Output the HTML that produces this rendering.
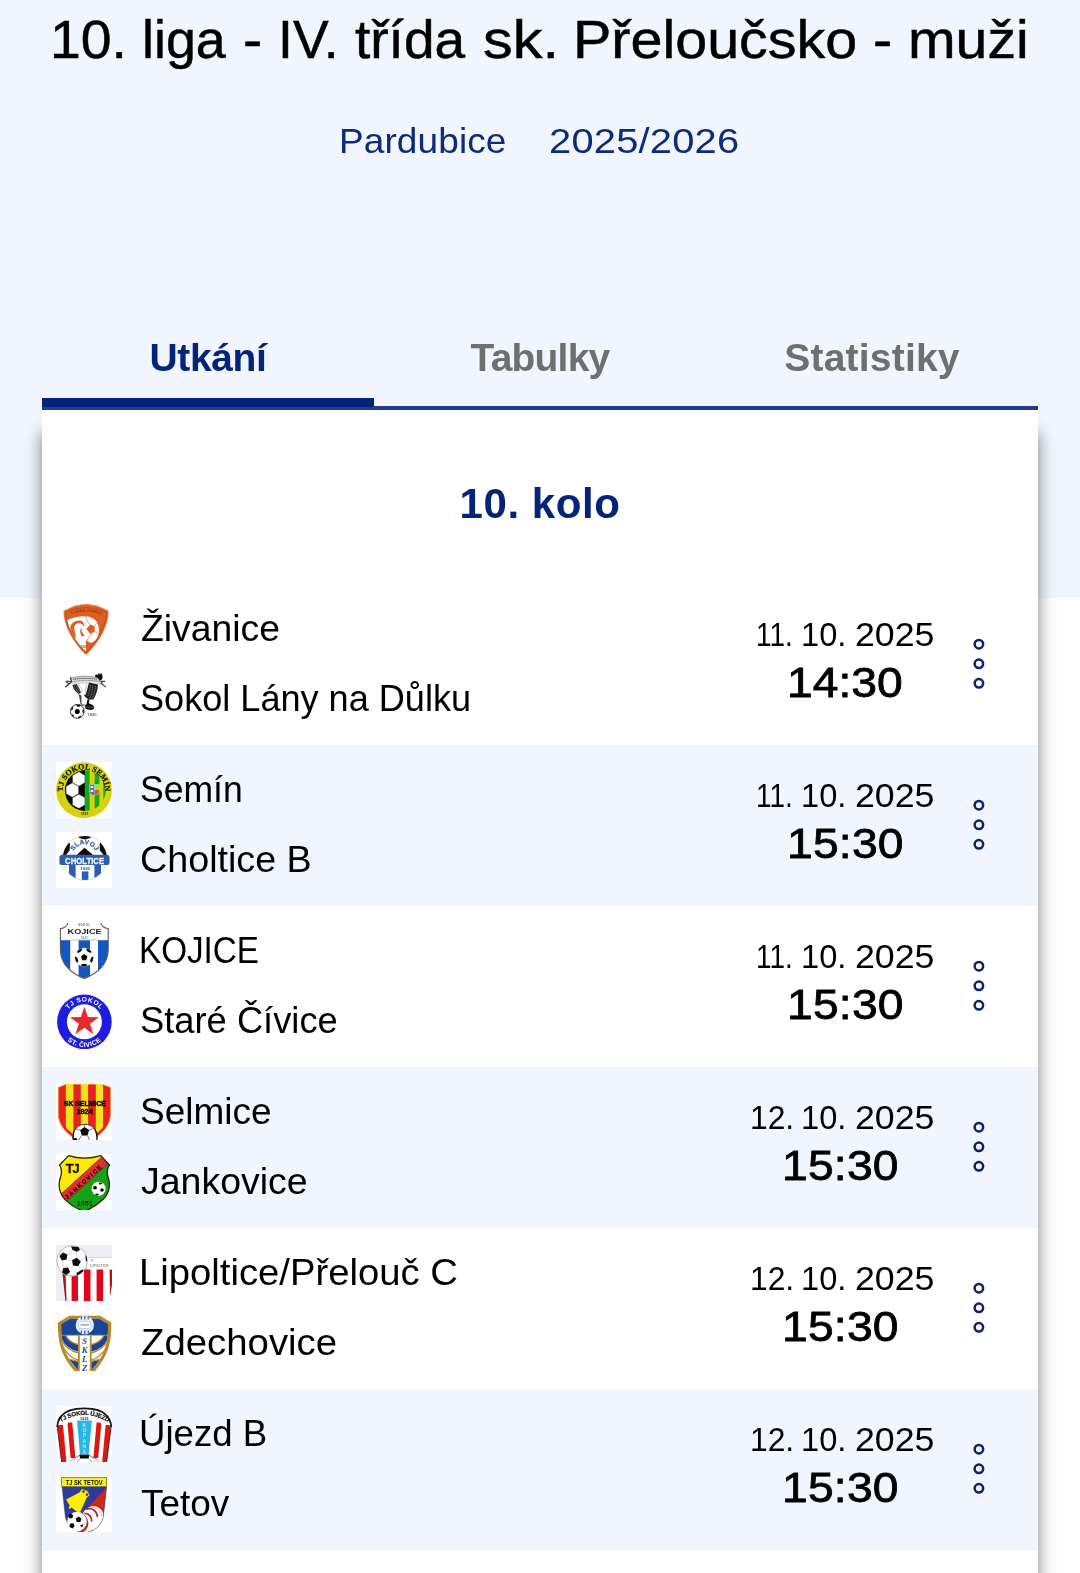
<!DOCTYPE html>
<html lang="cs">
<head>
<meta charset="utf-8">
<title>10. liga - IV. třída sk. Přeloučsko - muži</title>
<style>
*{box-sizing:border-box;margin:0;padding:0}
html,body{width:1080px;height:1573px;overflow:hidden;background:#fff}
body{position:relative;font-family:"Liberation Sans",sans-serif;color:#000}
.page{position:absolute;left:0;top:0;width:1080px;height:1573px;overflow:hidden;will-change:transform}
.top{position:absolute;left:0;top:0;width:1080px;height:598px;background:#f1f6fe}
.title{position:absolute;left:0;top:8px;width:1080px;height:62px;font-size:54px;line-height:62px;white-space:nowrap;color:#000;-webkit-text-stroke:.5px #000}
.title span{position:absolute;top:0;transform-origin:0 50%}
.sub{position:absolute;transform-origin:0 50%;top:121.3px;font-size:35.6px;line-height:40px;color:#0d2b7b;white-space:nowrap}
.tabs{position:absolute;left:42px;top:330px;width:996px;height:68px;display:flex}
.tab{flex:1;text-align:center;font-weight:bold;font-size:39px;line-height:56px;color:#6f6f6f}
.tab.on{color:#04247c}
.bar{position:absolute;left:42px;top:398px;width:332px;height:9px;background:#04247c}
.line{position:absolute;left:42px;top:406px;width:996px;height:3.5px;background:#1f3f8f}
.card{position:absolute;left:42px;top:409.5px;width:996px;height:1300px;background:#fff;box-shadow:0 23px 16px rgba(0,0,0,.5);clip-path:inset(0 -60px -60px -60px)}
.kolo{position:absolute;left:0;top:70.7px;width:996px;text-align:center;font-weight:bold;font-size:42px;line-height:48px;color:#04247c;letter-spacing:.56px}
.row{position:absolute;left:0;width:996px;height:161px}
.row.b{background:#f1f6fe}
.tm{position:absolute;left:14px;height:56px;width:700px}
.tm .lg{position:absolute;left:0;top:0;width:56px;height:56px;display:block}
.tm .nm{position:absolute;top:.2px;font-size:36.5px;white-space:nowrap;line-height:56px;transform-origin:0 50%}
.t1{top:17px}.t2{top:87px}
.d,.h{position:absolute;white-space:nowrap;transform-origin:0 50%}
.d{font-size:33px;line-height:36px;top:32.7px;left:0;width:996px;height:36px}
.d span{position:absolute;top:0;transform-origin:0 50%}
.h{font-size:42px;line-height:46px;-webkit-text-stroke:.8px #000;top:76.3px}
.dots{position:absolute;left:930px;top:53px;width:14px}
</style>
</head>
<body>
<div class="page">
<div class="top"></div>
<div class="title"><span style="left:49.9px;letter-spacing:0.0px;transform:scaleX(1.0258)">10.</span> <span style="left:142.0px;letter-spacing:0.0px;transform:scaleX(0.9963)">liga</span> <span style="left:242.9px;letter-spacing:0px;transform:scaleX(1.0714)">-</span> <span style="left:277.7px;letter-spacing:0.0px;transform:scaleX(0.9922)">IV.</span> <span style="left:355.0px;letter-spacing:-0.0px;transform:scaleX(1.0185)">třída</span> <span style="left:482.9px;letter-spacing:0.0px;transform:scaleX(1.1)">sk.</span> <span style="left:573.0px;letter-spacing:0.0px;transform:scaleX(1.064)">Přeloučsko</span> <span style="left:872.9px;letter-spacing:0px;transform:scaleX(1.0714)">-</span> <span style="left:907.5px;letter-spacing:0.0px;transform:scaleX(1.0583)">muži</span></div>
<div class="sub" style="left:339.3px;letter-spacing:0.09px;transform:scaleX(1.04)">Pardubice</div>
<div class="sub" style="left:548.8px;letter-spacing:0.2px;transform:scaleX(1.12)">2025/2026</div>
<div class="tabs"><div class="tab on" style="letter-spacing:-.4px">Utkání</div><div class="tab" style="letter-spacing:-.8px">Tabulky</div><div class="tab" style="letter-spacing:.2px">Statistiky</div></div>
<div class="card">
<div class="kolo">10. kolo</div>
<div class="row" style="top:174.7px">
<div class="tm t1"><svg class="lg" viewBox="0 0 56 56">
<defs><clipPath id="zv"><path d="M10.6,12.2 Q30,3.2 49.4,12.2 C49,26 42,39 30,50.6 C18,39 11,26 10.6,12.2Z"/></clipPath></defs>
<path d="M7.8,10 Q30,-3.4 52.4,10 C52.2,25 42.7,41.8 30,53.8 C17.3,41.8 8,25 7.8,10Z" fill="#f0a27a" stroke="#f0a27a" stroke-width="1" stroke-linejoin="round"/>
<path d="M8.4,10.4 Q30,-2.6 51.8,10.4 C51.5,25 42.3,41.2 30,53 C17.7,41.2 8.7,25 8.4,10.4Z" fill="#de5f22" stroke="#de5f22" stroke-width=".8" stroke-linejoin="round"/>
<path d="M9.7,11.4 Q30,1.4 50.3,11.4 C50,25.6 42,39.6 30,51.6 C18,39.6 10,25.6 9.7,11.4Z" fill="none" stroke="#9c4216" stroke-width=".5" stroke-linejoin="round"/>
<g clip-path="url(#zv)">
<path d="M10,19.6 Q20,15 30,15.3 L30,52 L8,52Z" fill="#fff"/>
<path d="M30,15.3 Q37,16 40.5,20.5 Q44.5,27 42,35 Q40,40.5 34.5,42 L30,39.5Z" fill="#fff"/>
<path d="M30,39.5 L34.8,42.2 L30,52Z" fill="#de5f22"/>
<path d="M30.4,28 L34.2,23.6 L38.6,25.2 L38.8,30.6 L34.4,33 Z" fill="#de5f22"/>
<path d="M30,15.5 L31.2,20.5 L34.2,23.6 M38.6,25.2 L41,22 M38.8,30.6 L42.4,33 M34.4,33 L32.6,37.5 L30,39.5 M30.4,28 L29.6,27" fill="none" stroke="#c9551d" stroke-width=".5"/>
<path d="M14.2,27.5 C14.5,22 19.5,18.8 24.5,19.6 C27,20.2 28.4,22.6 28.6,26 C26.8,22.6 24.2,21.6 21.4,22.4 C18.8,23.2 18,25.6 18.2,28 C18.6,31.6 20.4,34 19.4,37.4 C18.6,38.2 17.6,38 17.2,37 C15.6,34 14,31 14.2,27.5Z" fill="#de5f22"/>
<path d="M21.2,24.4 C19.6,26 19.8,28.4 20.6,30 C20.4,27.6 21.2,25.8 23,24.6Z" fill="#fff"/>
<path d="M24.8,27.4 C23.6,30 24.4,33.4 26,35.8 L28.6,34.4 C26.4,32.6 25.2,30 25.6,27.6Z" fill="#de5f22"/>
</g>
<path id="zvt" d="M12.6,14.4 Q30,6.6 47.4,14.4" fill="none"/>
<text font-family="Liberation Sans,sans-serif" font-size="3.1" font-weight="bold" fill="#8a2f0c" text-anchor="middle"><textPath href="#zvt" startOffset="50%">TJ SOKOL ŽIVANICE</textPath></text>
<text x="27.6" y="46.6" font-family="Liberation Sans,sans-serif" font-size="2.6" fill="#4a5f8f" text-anchor="middle" font-weight="bold">1932</text>
</svg><span class="nm" style="left:84.7px;letter-spacing:0.0px;transform:scaleX(1.0226)">Živanice</span></div>
<div class="tm t2"><svg class="lg" viewBox="0 0 56 56">
<path d="M14.5,6.6 Q28,3.6 42.5,6.4 L43.5,10.4 Q28,8 15.5,11.2Z" fill="#d9d9d9" stroke="#555" stroke-width=".5"/>
<path d="M17,8.4 Q28,6.4 41,8.2" fill="none" stroke="#333" stroke-width=".9" stroke-dasharray="1.4 .5"/>
<path d="M14.5,6.8 L15.6,11 L11,10 M15.6,11 L13,13 L9.6,16 M13,13 L10,10.6 M43.5,10.2 L48.6,10.4 M45,12 L49.4,15.8 M46.4,10.4 L45,13" fill="none" stroke="#333" stroke-width="1.1" stroke-linecap="round"/>
<path d="M15.4,11 L44,10.4 L43.6,12.4 Q30,11.4 16.4,13Z" fill="#eee" stroke="#888" stroke-width=".3"/>
<path d="M38.6,5.4 L40,3.2 L41.6,4 L42.8,2 L44,3.4 L45.2,1.8 Q47.4,5.4 46,8.6 L43.6,9.6 Q42.6,6.6 38.6,5.4Z" fill="#111"/>
<path d="M16.4,14 L20.6,13 Q24,17.6 25,21.6 L22.6,23 Q17.6,19.6 16.4,14Z" fill="#2a2a2a"/>
<path d="M18,15.4 L22.6,21.6 M20,14.6 L24,20.6" stroke="#999" stroke-width=".5"/>
<path d="M21.4,13 Q25.4,16 26.6,20.6 L25,21.4" fill="none" stroke="#bbb" stroke-width=".8"/>
<path d="M33,11.4 L42,13.6 Q41.6,22 37.4,28.4 L32.6,28.6 Q28.6,26.6 27.6,23.6 L29.6,24 Q31.6,17 33,11.4Z" fill="#222"/>
<path d="M34.6,14 Q33.6,20 31.6,25.6 M37,14.6 Q36,21 34,27 M39.6,15 Q38.6,22 36.4,27.6" fill="none" stroke="#aaa" stroke-width=".7" stroke-dasharray="1 .7"/>
<path d="M31,12.6 Q29,17.6 29.4,23.4" fill="none" stroke="#ccc" stroke-width="1.2"/>
<path d="M22.4,23 L25.4,24.6 Q25.6,28 25.4,31.6 L24,31.6 Q24.2,27.6 22.4,23Z" fill="#444"/>
<path d="M31.4,28.4 L33.4,28.6 L33,32.4 Q37.6,33.6 38.4,36.4 Q37.6,39 34.6,39 L29.6,38 L29,34.6 L30.6,33Z" fill="#111"/>
<path d="M30,36 L37.6,36.6" stroke="#888" stroke-width=".5"/>
<circle cx="21.3" cy="40.4" r="6.9" fill="#fff" stroke="#222" stroke-width=".9"/>
<circle cx="21.3" cy="40.4" r="2.5" fill="#000"/>
<path d="M20,33.8 L24.6,33.6 L24,35.6 L21.4,35.8Z M15,37.4 L17.4,35.6 L17,38.2 L15.4,39.6Z M26.6,38.6 L27.8,38.4 L27.8,42 L26.4,41.6Z M15.6,43 L17.6,44 L18,46 L16.4,45.2Z M22,46 L25,44.6 L24.6,46.4 L22.6,47.2Z" fill="#111"/>
<path d="M24.4,31.6 L26.6,34.4 L29.2,34" fill="none" stroke="#555" stroke-width="1.2"/>
<text x="36" y="45.2" font-family="Liberation Sans,sans-serif" font-size="4.2" font-weight="bold" fill="#666" text-anchor="middle">1920</text>
</svg><span class="nm" style="left:83.7px;letter-spacing:0.0px;transform:scaleX(0.9888)">Sokol Lány na Důlku</span></div>
<div class="d"><span style="left:714.2px;letter-spacing:0.0px;transform:scaleX(0.8462)">11.</span> <span style="left:759.0px;letter-spacing:0.0px;transform:scaleX(0.9878)">10.</span> <span style="left:812.6px;letter-spacing:0.0px;transform:scaleX(1.0829)">2025</span></div><div class="h" style="left:745.3px;letter-spacing:0.02px;transform:scaleX(1.1)">14:30</div>
<svg class="dots" viewBox="0 0 14 54" width="14" height="54"><g fill="none" stroke="#0d2173" stroke-width="2.5"><circle cx="6.9" cy="7.2" r="4.25"/><circle cx="6.9" cy="26.8" r="4.25"/><circle cx="6.9" cy="46.3" r="4.25"/></g></svg>
</div>
<div class="row b" style="top:335.7px">
<div class="tm t1"><svg class="lg" viewBox="0 0 56 56">
<rect width="56" height="56" fill="#fff"/>
<defs><clipPath id="smc"><circle cx="29.3" cy="28.5" r="20.4"/></clipPath></defs>
<circle cx="28" cy="28.2" r="27.9" fill="#d6d30e"/>
<g clip-path="url(#smc)">
<rect x="8" y="7" width="21" height="43" fill="#0a0a0a"/>
<g fill="#fff" stroke="#bbb" stroke-width=".4">
<polygon points="22.8,10.1 16.8,13.6 16.8,20.5 22.8,23.9 28.8,20.5 28.8,13.6"/>
<polygon points="16.3,21.1 10.3,24.6 10.3,31.5 16.3,34.9 22.3,31.5 22.3,24.6"/>
<polygon points="22.8,32.4 16.8,35.8 16.8,42.8 22.8,46.2 28.8,42.8 28.8,35.8"/>
</g>
<rect x="28.8" y="7" width="5" height="43" fill="#14a81c"/>
<rect x="33.8" y="7" width="4.8" height="43" fill="#d6d30e"/>
<rect x="38.6" y="7" width="5" height="43" fill="#14a81c"/>
<rect x="43.6" y="7" width="3.8" height="43" fill="#d6d30e"/>
<rect x="47.4" y="7" width="3" height="43" fill="#14a81c"/>
<path d="M33.4,22.4 L43.4,22.4 L43.4,29 Q43,33 38.4,33.6 Q33.8,33 33.4,29Z" fill="#fff"/>
<path d="M33.6,22.6 L38.4,22.6 L38.4,33.4 Q34,32.8 33.6,29Z" fill="#4a76c8"/>
<path d="M34.6,24 h2.6 v2 h-2.6z M34.6,28 h2.6 v2 h-2.6z" fill="#e8eefc"/>
<path d="M38.4,22.6 L43.2,22.6 L43.2,28 L38.4,28Z" fill="#9fe03a"/>
<path d="M38.4,28 L43.2,28 Q43.2,32.6 38.4,33.4Z" fill="#d8583a"/>
</g>
<path id="smt" d="M7.92,34.54 A21.0,21.0 0 1 1 48.08,34.54" fill="none"/>
<text font-family="Liberation Serif,serif" font-size="7.8" font-weight="bold" fill="#15150a" stroke="#15150a" stroke-width=".25" text-anchor="middle" letter-spacing=".15"><textPath href="#smt" startOffset="50%">TJ SOKOL SEMÍN</textPath></text>
<text x="28.6" y="53.2" font-family="Liberation Serif,serif" font-size="3.6" font-weight="bold" fill="#2a2a00" text-anchor="middle">1919</text>
</svg><span class="nm" style="left:83.8px;letter-spacing:0.0px;transform:scaleX(0.9733)">Semín</span></div>
<div class="tm t2"><svg class="lg" viewBox="0 0 56 56">
<rect width="56" height="56" fill="#fff"/>
<defs><clipPath id="chc"><circle cx="28.8" cy="26.1" r="22"/></clipPath></defs>
<circle cx="28.8" cy="26.1" r="22.2" fill="#fff" stroke="#c9c9c9" stroke-width=".6"/>
<g clip-path="url(#chc)">
<path d="M21.6,3 L36,3 L34.4,6 L28.8,7.6 L23.2,6Z" fill="#0b0b0b"/>
<path d="M5,24 L8.4,17 L12.6,10.4 L14,11.4 L13.6,18.6 L9.6,23.4Z" fill="#0b0b0b"/>
<path d="M52.6,24 L49.2,17 L45,10.4 L43.6,11.4 L44,18.6 L48,23.4Z" fill="#0b0b0b"/>
<path d="M28.6,15.8 L36.6,22.4 L36.6,24 L21,24 L21,22.4Z" fill="#0b0b0b"/>
<rect x="13" y="32" width="6.6" height="20" fill="#2b5db2"/>
<rect x="25.8" y="39.4" width="6.6" height="12" fill="#2b5db2"/>
<rect x="38.4" y="32" width="6.6" height="20" fill="#2b5db2"/>
</g>
<rect x="3.4" y="22.8" width="50.2" height="10.3" rx="3.2" fill="#2b5db2"/>
<text x="28.6" y="31.5" font-family="Liberation Sans,sans-serif" font-size="9.6" font-weight="bold" fill="#eef3fd" stroke="#eef3fd" stroke-width=".35" text-anchor="middle" textLength="39" lengthAdjust="spacingAndGlyphs">CHOLTICE</text>
<path id="cht" d="M17.2,20.6 A11.9,11.9 0 0 1 40,20.6" fill="none"/>
<text font-family="Liberation Sans,sans-serif" font-size="6.6" font-weight="bold" fill="#3a63b4" stroke="#3a63b4" stroke-width=".25" text-anchor="middle" letter-spacing=".2"><textPath href="#cht" startOffset="50%">SLAVOJ</textPath></text>
<text x="29.2" y="38.2" font-family="Liberation Sans,sans-serif" font-size="4.4" font-weight="bold" fill="#2a4a8e" text-anchor="middle">1920</text>
</svg><span class="nm" style="left:83.6px;letter-spacing:0.0px;transform:scaleX(1.0325)">Choltice B</span></div>
<div class="d"><span style="left:714.2px;letter-spacing:0.0px;transform:scaleX(0.8462)">11.</span> <span style="left:759.0px;letter-spacing:0.0px;transform:scaleX(0.9878)">10.</span> <span style="left:812.6px;letter-spacing:0.0px;transform:scaleX(1.0829)">2025</span></div><div class="h" style="left:744.9px;letter-spacing:0.2px;transform:scaleX(1.1)">15:30</div>
<svg class="dots" viewBox="0 0 14 54" width="14" height="54"><g fill="none" stroke="#0d2173" stroke-width="2.5"><circle cx="6.9" cy="7.2" r="4.25"/><circle cx="6.9" cy="26.8" r="4.25"/><circle cx="6.9" cy="46.3" r="4.25"/></g></svg>
</div>
<div class="row" style="top:496.7px">
<div class="tm t1"><svg class="lg" viewBox="0 0 56 56">
<defs><clipPath id="kjc"><path d="M12,-1 Q11.4,4.6 4.4,5.6 L4.4,27 C4.6,40 14,50.4 28.3,55.4 C42.6,50.4 52,40 52.2,27 L52.2,5.6 Q45.2,4.6 44.6,-1Z"/></clipPath><clipPath id="kjb"><circle cx="28.2" cy="34.2" r="9.2"/></clipPath></defs>
<path d="M12,-1 Q11.4,4.6 4.4,5.6 L4.4,27 C4.6,40 14,50.4 28.3,55.4 C42.6,50.4 52,40 52.2,27 L52.2,5.6 Q45.2,4.6 44.6,-1Z" fill="#fff"/>
<g clip-path="url(#kjc)">
<rect x="3" y="17.2" width="11.2" height="40" fill="#1257c2"/>
<rect x="22.6" y="17.2" width="11.4" height="40" fill="#1257c2"/>
<rect x="42" y="17.2" width="12" height="40" fill="#1257c2"/>
<rect x="14" y="16.6" width="28" height=".7" fill="#aaa"/>
</g>
<path d="M12,-1 Q11.4,4.6 4.4,5.6 L4.4,27 C4.6,40 14,50.4 28.3,55.4 C42.6,50.4 52,40 52.2,27 L52.2,5.6 Q45.2,4.6 44.6,-1Z" fill="none" stroke="#5a5a5a" stroke-width="1.1"/>
<circle cx="28.2" cy="34.2" r="9.2" fill="#fff" stroke="#ddd" stroke-width=".4"/>
<g clip-path="url(#kjb)"><ellipse cx="23.1" cy="27.1" rx="3.1" ry="2.1" transform="rotate(-36 23.1 27.1)" fill="#0a0a0a"/><ellipse cx="19.9" cy="36.9" rx="3.1" ry="2.1" transform="rotate(-108 19.9 36.9)" fill="#0a0a0a"/><ellipse cx="28.2" cy="42.9" rx="3.1" ry="2.1" transform="rotate(-180 28.2 42.9)" fill="#0a0a0a"/><ellipse cx="36.5" cy="36.9" rx="3.1" ry="2.1" transform="rotate(-252 36.5 36.9)" fill="#0a0a0a"/><ellipse cx="33.3" cy="27.1" rx="3.1" ry="2.1" transform="rotate(-324 33.3 27.1)" fill="#0a0a0a"/></g>
<polygon points="28.2,31.0 25.0,33.3 26.2,37.2 30.2,37.2 31.4,33.3" fill="#050505"/>
<text x="28.6" y="11.4" font-family="Liberation Sans,sans-serif" font-size="7.6" font-weight="bold" fill="#1a1a1a" text-anchor="middle" textLength="34" lengthAdjust="spacingAndGlyphs">KOJICE</text>
<text x="28.4" y="3.4" font-family="Liberation Sans,sans-serif" font-size="2.8" font-weight="bold" fill="#666" text-anchor="middle" letter-spacing=".5">SOKOL</text>
<text x="28.4" y="15.8" font-family="Liberation Sans,sans-serif" font-size="2.8" font-weight="bold" fill="#777" text-anchor="middle" letter-spacing=".3">1921</text>
</svg><span class="nm" style="left:83.0px;letter-spacing:0.0px;transform:scaleX(0.9102)">KOJICE</span></div>
<div class="tm t2"><svg class="lg" viewBox="0 0 56 56">
<circle cx="28.4" cy="28.9" r="27.3" fill="#1d1ce0"/>
<circle cx="28.4" cy="28.799999999999997" r="17.5" fill="#fff"/>
<polygon points="28.4,13.7 24.9,24.1 13.9,24.2 22.8,30.7 19.5,41.2 28.4,34.8 37.3,41.2 34.0,30.7 42.9,24.2 31.9,24.1" fill="#e8292b"/>
<path id="cvt" d="M8.41,25.37 A20.3,20.3 0 0 1 48.39,25.37" fill="none"/>
<path id="cvb" d="M4.72,37.52 A25.2,25.2 0 0 0 52.08,37.52" fill="none"/>
<text font-family="Liberation Sans,sans-serif" font-size="6.6" font-weight="bold" fill="#fff" text-anchor="middle" letter-spacing=".5"><textPath href="#cvt" startOffset="50%">TJ SOKOL</textPath></text>
<text font-family="Liberation Sans,sans-serif" font-size="6.6" font-weight="bold" fill="#fff" text-anchor="middle" letter-spacing=".4"><textPath href="#cvb" startOffset="50%">ST. ČIVICE</textPath></text>
</svg><span class="nm" style="left:83.7px;letter-spacing:0.0px;transform:scaleX(0.9949)">Staré Čívice</span></div>
<div class="d"><span style="left:714.2px;letter-spacing:0.0px;transform:scaleX(0.8462)">11.</span> <span style="left:759.0px;letter-spacing:0.0px;transform:scaleX(0.9878)">10.</span> <span style="left:812.6px;letter-spacing:0.0px;transform:scaleX(1.0829)">2025</span></div><div class="h" style="left:744.9px;letter-spacing:0.2px;transform:scaleX(1.1)">15:30</div>
<svg class="dots" viewBox="0 0 14 54" width="14" height="54"><g fill="none" stroke="#0d2173" stroke-width="2.5"><circle cx="6.9" cy="7.2" r="4.25"/><circle cx="6.9" cy="26.8" r="4.25"/><circle cx="6.9" cy="46.3" r="4.25"/></g></svg>
</div>
<div class="row b" style="top:657.7px">
<div class="tm t1"><svg class="lg" viewBox="0 0 56 56">
<rect width="56" height="56" fill="#fff"/>
<defs><clipPath id="slc"><path d="M2.2,3.4 L10,0 L46.4,0 L54.6,3.4 L54.6,30 C54.4,44 42,54 28.4,59 C14.8,54 2.4,44 2.2,30Z"/></clipPath><clipPath id="slb"><circle cx="29" cy="52.6" r="12.4"/></clipPath></defs>
<g clip-path="url(#slc)">
<rect width="56" height="60" fill="#e8231f"/>
<rect x="9.8" y="0" width="7.6" height="60" fill="#f4e21c"/>
<rect x="24.8" y="0" width="7.3" height="60" fill="#f4e21c"/>
<rect x="39.8" y="0" width="7.3" height="60" fill="#f4e21c"/>
<path d="M2.2,-2 L2.2,30 C2.4,44 14.8,54 28.4,59 C42,54 54.4,44 54.6,30 L54.6,-2" fill="none" stroke="#e8231f" stroke-width="5.4"/>
<path d="M2.2,3.4 L10,0 L46.4,0 L54.6,3.4 L54.6,30 C54.4,44 42,54 28.4,59 C14.8,54 2.4,44 2.2,30Z" fill="none" stroke="#f6d54a" stroke-width="1"/>
</g>
<circle cx="29" cy="52.6" r="12.4" fill="#fff" stroke="#111" stroke-width=".8"/>
<g clip-path="url(#slb)">
<polygon points="28.6,42.9 24.1,46.1 25.8,51.4 31.4,51.4 33.1,46.1" fill="#0a0a0a"/>
<path d="M28.6,42.9 L28.8,40 M33.1,46.2 L37.6,44.4 M31.4,51.4 L33.6,56 M25.8,51.4 L22.6,56 M24.1,46.2 L19.4,44.8" stroke="#222" stroke-width=".6"/>
<path d="M37.6,44.4 Q40.6,49 40.4,56 L42,56 L41,46Z M19.4,44.8 Q17.4,50 17.6,56 L16,56 L17,47Z" fill="#0a0a0a"/>
<path d="M16.4,54.6 L20.4,54 L21.6,56 L16,56Z" fill="#0a0a0a"/>
</g>
<text x="28.8" y="22.4" font-family="Liberation Sans,sans-serif" font-size="7" font-weight="bold" fill="#080808" stroke="#080808" stroke-width=".5" text-anchor="middle" textLength="42" lengthAdjust="spacingAndGlyphs">SK SELMICE</text>
<text x="28.6" y="29.6" font-family="Liberation Sans,sans-serif" font-size="6.4" font-weight="bold" fill="#080808" stroke="#080808" stroke-width=".4" text-anchor="middle" textLength="16.4" lengthAdjust="spacingAndGlyphs">1924</text>
</svg><span class="nm" style="left:83.7px;letter-spacing:0.0px;transform:scaleX(1.0127)">Selmice</span></div>
<div class="tm t2"><svg class="lg" viewBox="0 0 56 56">
<rect width="56" height="56" fill="#fff"/>
<defs><clipPath id="jkc"><path d="M12.6,1.6 Q28,6.6 44.8,1.6 L53.4,11 Q49.6,16 52.4,24 Q56,36 47,45.6 Q38,53.6 28.4,57.4 Q17,53.6 9,45.6 Q0.6,36 4.2,24 Q7,16 3.6,11Z"/></clipPath></defs>
<g clip-path="url(#jkc)">
<rect width="56" height="58" fill="#15a215"/>
<path d="M0,0 L50,0 L0,46Z" fill="#fdea04"/>
<path d="M0,44.6 L49.4,-0.4 L56,6 L8,50Z" fill="#df2f38"/>
<path d="M0,44.6 L49.4,-0.4 M8,50 L56,6" stroke="#5a1a10" stroke-width=".5"/>
</g>
<path d="M12.6,1.6 Q28,6.6 44.8,1.6 L53.4,11 Q49.6,16 52.4,24 Q56,36 47,45.6 Q38,53.6 28.4,57.4 Q17,53.6 9,45.6 Q0.6,36 4.2,24 Q7,16 3.6,11Z" fill="none" stroke="#26290a" stroke-width="1.3" stroke-linejoin="round"/>
<text x="16.8" y="19" font-family="Liberation Sans,sans-serif" font-size="13" font-weight="bold" fill="#141400" text-anchor="middle" stroke="#141400" stroke-width=".3" textLength="14" lengthAdjust="spacing">TJ</text>
<text transform="translate(11.2,45.6) rotate(-42.3)" font-family="Liberation Sans,sans-serif" font-size="6" font-weight="bold" fill="#1e0505" stroke="#1e0505" stroke-width=".2" textLength="47" lengthAdjust="spacing">JANKOVICE</text>
<circle cx="42.6" cy="34.8" r="7" fill="#fff"/>
<ellipse cx="39" cy="33.8" rx="1.9" ry="1.7" fill="#0a0a0a"/>
<ellipse cx="46" cy="36" rx="1.8" ry="1.7" fill="#0a0a0a"/>
<ellipse cx="44.4" cy="29.4" rx="1.7" ry="1" fill="#0a0a0a"/>
<ellipse cx="41" cy="40.4" rx="1.7" ry="1" fill="#0a0a0a"/>
<text x="28.8" y="52" font-family="Liberation Sans,sans-serif" font-size="7.4" font-weight="bold" fill="#0c3a0c" text-anchor="middle" textLength="16" lengthAdjust="spacingAndGlyphs">1951</text>
</svg><span class="nm" style="left:84.7px;letter-spacing:0.0px;transform:scaleX(1.0269)">Jankovice</span></div>
<div class="d"><span style="left:707.5px;letter-spacing:0.0px;transform:scaleX(0.9634)">12.</span> <span style="left:759.0px;letter-spacing:0.0px;transform:scaleX(0.9878)">10.</span> <span style="left:812.6px;letter-spacing:0.0px;transform:scaleX(1.0829)">2025</span></div><div class="h" style="left:740.4px;letter-spacing:0.2px;transform:scaleX(1.1)">15:30</div>
<svg class="dots" viewBox="0 0 14 54" width="14" height="54"><g fill="none" stroke="#0d2173" stroke-width="2.5"><circle cx="6.9" cy="7.2" r="4.25"/><circle cx="6.9" cy="26.8" r="4.25"/><circle cx="6.9" cy="46.3" r="4.25"/></g></svg>
</div>
<div class="row" style="top:818.7px">
<div class="tm t1"><svg class="lg" viewBox="0 0 56 56">
<rect width="56" height="56" fill="#ededf3"/>
<defs><clipPath id="lpb"><circle cx="16" cy="16" r="15.2"/></clipPath></defs>
<path d="M6.4,24 L56,24 L56,56 L10.4,56Z" fill="#fff"/>
<path d="M6.4,28 L9.6,30 L10.6,56 L9.4,56Z" fill="#a01822"/>
<rect x="15.6" y="28" width="6.4" height="28" fill="#e2051b"/>
<rect x="28" y="24.4" width="6.5" height="31.6" fill="#e2051b"/>
<rect x="40.6" y="24.4" width="6.5" height="31.6" fill="#e2051b"/>
<path d="M53.6,24.4 L56,24.4 L56,40 L54,52Z" fill="#b01422"/>
<rect x="31.6" y="12.4" width="24.4" height="11.8" fill="#fff"/>
<rect x="31.6" y="12.2" width="24.4" height=".7" fill="#c8c8c8"/>
<circle cx="16" cy="16" r="15.2" fill="#fff" stroke="#9a9a9a" stroke-width=".7"/>
<g clip-path="url(#lpb)" fill="#0c0c0c">
<polygon points="21.0,12.7 16.1,15.0 16.9,20.4 22.2,21.3 24.8,16.6"/>
<polygon points="6.9,7.5 3.4,11.0 5.8,15.4 10.6,14.5 11.3,9.6"/>
<polygon points="12.1,22.4 7.2,22.9 6.2,27.7 10.4,30.2 14.1,26.9"/>
<path d="M15,1.6 L22.6,2 L24,5 L20.6,6.8 L16.6,5Z"/>
<path d="M20.4,28 L26.4,24.6 L28,26 L24,30 L21,30.6Z"/>
<path d="M29.4,10.6 L31,11 L31.4,16 L30,16.4Z"/>
</g>
<g stroke="#aaa" stroke-width=".45" fill="none"><path d="M20.6,6.8 L20.6,12.6 M11.6,10.2 L16.4,5 M11,14.6 L15.8,16 M17.6,21 L13.4,23.6 M24.6,15.6 L29.6,13 M23,21 L25,24.6 M7,15.8 L7,22.4"/></g>
<text x="34.4" y="17.2" font-family="Liberation Sans,sans-serif" font-size="2.6" fill="#999">SK</text>
<text x="34.2" y="22" font-family="Liberation Sans,sans-serif" font-size="3" font-weight="bold" fill="#8c8c8c" textLength="18.6" lengthAdjust="spacingAndGlyphs">LIPOLTICE</text>
</svg><span class="nm" style="left:83.2px;letter-spacing:0.0px;transform:scaleX(1.048)">Lipoltice/Přelouč C</span></div>
<div class="tm t2"><svg class="lg" viewBox="0 0 56 56">
<defs><clipPath id="zdc"><path d="M14.2,3.8 L43.2,3.8 L52,9 C52.4,28 49,44 28.6,61.6 C8.2,44 4.8,28 5.2,9Z"/></clipPath></defs>
<path d="M13.4,0.8 L44,0.8 L55.2,7.4 C55.8,28 52.2,46 28.6,66 C5,46 1.4,28 2,7.4Z" fill="#b8862b"/>
<g clip-path="url(#zdc)">
<rect width="56" height="60" fill="#fffdf6"/>
<rect x="0" y="0" width="56" height="20" fill="#17459a"/>
<rect x="0" y="19.8" width="56" height="1" fill="#a89a66"/>
<path d="M4,20.4 Q9,33.6 22.4,36.8 L22.4,29.6 Q13,27.4 9.6,20.4Z" fill="#17459a"/>
<path d="M9.6,20.4 Q13,27.4 22.4,29.6 M4.6,22 Q9,34.8 22.4,38 M7,32 Q13,42.6 22.4,45.2" fill="none" stroke="#b8862b" stroke-width="1.3"/>
<path d="M13,44.6 L22.4,46.8 L22.4,56 Z" fill="#17459a"/>
<path d="M12.4,44 L22.4,46.4" stroke="#b8862b" stroke-width="1.2"/>
<g transform="translate(57.6,0) scale(-1,1)"><path d="M4,20.4 Q9,33.6 22.4,36.8 L22.4,29.6 Q13,27.4 9.6,20.4Z" fill="#17459a"/>
<path d="M9.6,20.4 Q13,27.4 22.4,29.6 M4.6,22 Q9,34.8 22.4,38 M7,32 Q13,42.6 22.4,45.2" fill="none" stroke="#b8862b" stroke-width="1.3"/>
<path d="M13,44.6 L22.4,46.8 L22.4,56 Z" fill="#17459a"/>
<path d="M12.4,44 L22.4,46.4" stroke="#b8862b" stroke-width="1.2"/></g>
<rect x="22" y="20.6" width="13.6" height="40" fill="#b8862b"/>
<rect x="23.8" y="20.6" width="10" height="40" fill="#fff"/>
</g>
<circle cx="28.8" cy="10" r="9.2" fill="#e8f0fb"/>
<g stroke="#17459a" stroke-width="1.1"><path d="M25.4,1.6 V4.6 M28.8,1 V4.4 M32.2,1.6 V4.6 M25.4,15.4 V18.4 M28.8,15.6 V19 M32.2,15.4 V18.4"/></g>
<rect x="22.6" y="6.4" width="12.4" height="7.2" rx="1.4" fill="#fff" stroke="#9db8e0" stroke-width=".6"/>
<rect x="24.6" y="8.8" width="8.4" height="2" fill="#9db8e0"/>
<g font-family="Liberation Serif,serif" font-style="italic" font-weight="bold" fill="#1b4a9c" text-anchor="middle" font-size="9">
<text x="28.8" y="29.4">S</text><text x="28.8" y="38.2">K</text><text x="28.8" y="46.8">L</text><text x="28.8" y="55.8">Z</text></g>
</svg><span class="nm" style="left:84.6px;letter-spacing:0.01px;transform:scaleX(1.05)">Zdechovice</span></div>
<div class="d"><span style="left:707.5px;letter-spacing:0.0px;transform:scaleX(0.9634)">12.</span> <span style="left:759.0px;letter-spacing:0.0px;transform:scaleX(0.9878)">10.</span> <span style="left:812.6px;letter-spacing:0.0px;transform:scaleX(1.0829)">2025</span></div><div class="h" style="left:740.4px;letter-spacing:0.2px;transform:scaleX(1.1)">15:30</div>
<svg class="dots" viewBox="0 0 14 54" width="14" height="54"><g fill="none" stroke="#0d2173" stroke-width="2.5"><circle cx="6.9" cy="7.2" r="4.25"/><circle cx="6.9" cy="26.8" r="4.25"/><circle cx="6.9" cy="46.3" r="4.25"/></g></svg>
</div>
<div class="row b" style="top:979.7px">
<div class="tm t1"><svg class="lg" viewBox="0 0 56 56">
<rect width="56" height="56" fill="#fff"/>
<defs><clipPath id="ujc"><path d="M1.2,20 C2,7 14,2.4 28.4,2.4 C42.8,2.4 54.4,7 55.2,20 L50.6,56 L5.6,56Z"/></clipPath></defs>
<g clip-path="url(#ujc)">
<path d="M1,19 L7,19 L10.4,56 L5.4,56Z" fill="#dc1612"/>
<path d="M11.4,16.4 L16.2,16.4 L19.4,52 L14.6,52Z" fill="#dc1612"/>
<path d="M21,14.4 L35.8,14.4 L32.6,49 L24,49Z" fill="#2cb5e2"/>
<path d="M40.6,16.4 L45.4,16.4 L42.2,52 L37.4,52Z" fill="#dc1612"/>
<path d="M49.6,19 L55.6,19 L51,56 L46.2,56Z" fill="#dc1612"/>
<path d="M0,20.6 Q4,14.6 12,17 M44.6,17 Q52,14.6 56,20.6" fill="none" stroke="#fff" stroke-width="2.4"/>
<circle cx="28.4" cy="61" r="12.6" fill="#fff" stroke="#999" stroke-width=".5"/>
<path d="M23.2,48.8 L33.4,48.8 L32.6,52.4 L24.2,52.4Z" fill="#070707"/>
<path d="M24.2,52.4 L21,56 M32.6,52.4 L36,56 M23.2,49.4 L17,52.6 L13.4,56 M33.4,49.4 L39.6,52.6 L43,56" stroke="#555" stroke-width=".6" fill="none"/>
</g>
<path d="M1.2,21 C2,7 14,2.4 28.4,2.4 C42.8,2.4 54.4,7 55.2,21" fill="none" stroke="#141414" stroke-width="1.7"/>
<path d="M1.2,20 L5.6,56 M55.2,20 L50.6,56" stroke="#5a0c0c" stroke-width=".9"/>
<path id="ujt" d="M4.4,16.4 Q28.4,1.4 52.4,16.4" fill="none"/>
<text font-family="Liberation Sans,sans-serif" font-size="6" font-weight="bold" fill="#111" stroke="#111" stroke-width=".25" text-anchor="middle" letter-spacing="-.1"><textPath href="#ujt" startOffset="50%">TJ SOKOL ÚJEZD</textPath></text>
<text x="28.4" y="14" font-family="Liberation Sans,sans-serif" font-size="3.4" font-weight="bold" fill="#222" text-anchor="middle" letter-spacing=".3">1929</text>
<g font-family="Liberation Sans,sans-serif" font-size="5" font-weight="bold" fill="#9af4ff" text-anchor="middle">
<text x="28.4" y="20.6">K</text><text x="28.4" y="26">O</text><text x="28.4" y="31.4">P</text><text x="28.4" y="36.8">A</text><text x="28.4" y="42.2">N</text><text x="28.4" y="47.6">Á</text></g>
</svg><span class="nm" style="left:82.7px;letter-spacing:0.0px;transform:scaleX(1.0024)">Újezd B</span></div>
<div class="tm t2"><svg class="lg" viewBox="0 0 56 56">
<rect width="56" height="56" fill="#fff"/>
<defs><clipPath id="ttc"><path d="M6,11 L50.6,11 L47.4,40 C46,50 38,56 28,56.4 C18,56 10.6,50 9.2,40Z"/></clipPath></defs>
<g clip-path="url(#ttc)">
<rect width="56" height="58" fill="#2e3b9c"/>
<path d="M51,11 L24,40 L30,58 L56,58 L56,11Z" fill="#c8291f"/>
<path d="M27,37 C32,28 44,28 47.6,38 L47,48 C44,56 36,58 29,56 C33,50 32,42 27,37Z" fill="#fff"/>
<path d="M29.6,33.4 C36,31 41,35 41.6,41 M28.4,37.4 C33,37 36,41 35.6,45.6" fill="none" stroke="#b02a26" stroke-width="1.7"/>
<path d="M33.4,31.6 C40,30 45,34 45.6,40" fill="none" stroke="#e9b9b4" stroke-width="1"/>
<path d="M20,52 L30,52 L34,58 L18,58Z" fill="#fff"/><circle cx="22.6" cy="47.2" r="9.8" fill="#b52a24"/>
</g>
<path d="M6,11 L50.6,11 L47.4,40 C46,50 38,56 28,56.4 C18,56 10.6,50 9.2,40Z" fill="none" stroke="#3a3a6a" stroke-width=".4"/>
<path d="M10,23.4 L23.6,16.2 L26,12.8 L31.4,15 L33.6,19 L31,21.6 L24.2,36.2 L21.8,36.4 L15.4,31.6 L13.8,33.4 L12.6,31.6 L13.6,29.6Z" fill="#fdf000" stroke="#6a6a10" stroke-width=".4"/>
<circle cx="27.6" cy="15.6" r="1.3" fill="#2e3b9c"/><circle cx="31" cy="18.6" r="1.3" fill="#2e3b9c"/>
<circle cx="21" cy="45.6" r="9.8" fill="#fff"/>
<polygon points="14.8,37.6 12.3,39.4 13.3,42.3 16.3,42.3 17.3,39.4" fill="#0a0a0a"/>
<polygon points="22.6,40.6 19.7,42.7 20.8,46.0 24.4,46.0 25.5,42.7" fill="#0a0a0a"/>
<polygon points="17.4,47.2 14.1,47.5 13.4,50.7 16.3,52.4 18.7,50.2" fill="#0a0a0a"/>
<path d="M24,49.6 L27.6,48 L26,51.6Z" fill="#0a0a0a"/>
<rect x="5.6" y="1.6" width="45" height="9" fill="#fbee2e" stroke="#6f6f18" stroke-width=".8"/>
<text x="28.2" y="8.8" font-family="Liberation Sans,sans-serif" font-size="7.6" font-weight="bold" fill="#101000" text-anchor="middle" textLength="37" lengthAdjust="spacingAndGlyphs">TJ SK TETOV</text>
</svg><span class="nm" style="left:85.3px;letter-spacing:0.0px;transform:scaleX(1.0116)">Tetov</span></div>
<div class="d"><span style="left:707.5px;letter-spacing:0.0px;transform:scaleX(0.9634)">12.</span> <span style="left:759.0px;letter-spacing:0.0px;transform:scaleX(0.9878)">10.</span> <span style="left:812.6px;letter-spacing:0.0px;transform:scaleX(1.0829)">2025</span></div><div class="h" style="left:740.4px;letter-spacing:0.2px;transform:scaleX(1.1)">15:30</div>
<svg class="dots" viewBox="0 0 14 54" width="14" height="54"><g fill="none" stroke="#0d2173" stroke-width="2.5"><circle cx="6.9" cy="7.2" r="4.25"/><circle cx="6.9" cy="26.8" r="4.25"/><circle cx="6.9" cy="46.3" r="4.25"/></g></svg>
</div>
</div>
<div class="line"></div>
<div class="bar"></div>
</div>
</body>
</html>
